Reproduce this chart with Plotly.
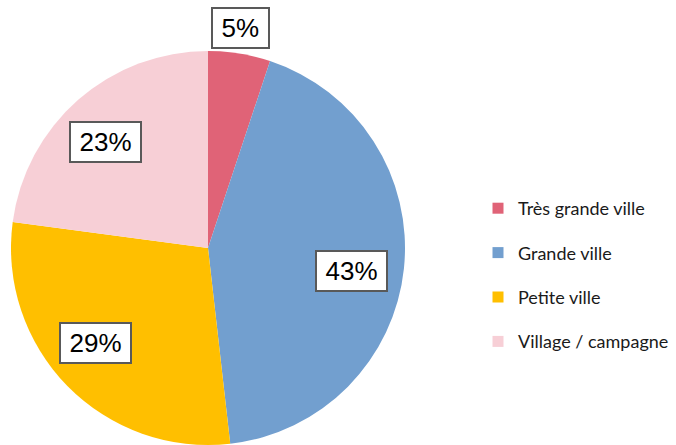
import math
import plotly.graph_objects as go

labels = ["Très grande ville", "Grande ville", "Petite ville", "Village / campagne"]
values = [5.1, 43.1, 28.9, 22.9]
colors = ["#E06377", "#729FCF", "#FFBF00", "#F7CFD6"]

# label placement: radius fraction and angular nudge (degrees) per slice
label_radius = [1.13, 0.738, 0.747, 0.75]
label_shift = [-0.7, 3.2, 4.3, -2.7]

W, H = 676, 445
cx, cy, R = 208, 248, 197
FS = 26

fig = go.Figure()
fig.add_trace(go.Pie(
    labels=labels, values=values, sort=False, direction="clockwise", rotation=0,
    marker=dict(colors=colors, line=dict(width=0)),
    textinfo="none", hoverinfo="label+percent", showlegend=False,
    domain=dict(x=[(cx - R) / W, (cx + R) / W], y=[(H - cy - R) / H, (H - cy + R) / H]),
))

total = sum(values)
cum = 0
for v, rf, sh in zip(values, label_radius, label_shift):
    mid = (cum + v / 2) / total * 2 * math.pi + math.radians(sh)
    cum += v
    px = cx + rf * R * math.sin(mid)
    py = cy - rf * R * math.cos(mid)
    txt = f"{round(v / total * 100)}%"
    ndig = len(txt) - 1
    fig.add_annotation(
        x=px / W, y=1 - py / H, xref="paper", yref="paper",
        xanchor="center", yanchor="middle",
        text=txt, showarrow=False, width=FS * (0.556 * ndig + 0.889) + 9,
        font=dict(family="Liberation Sans, Arial", size=FS, color="#000"),
        bgcolor="white", bordercolor="#595959", borderwidth=2, borderpad=4,
    )

for lab, col in zip(labels, colors):
    fig.add_trace(go.Scatter(
        x=[None], y=[None], mode="markers", name=lab, legendgroup=lab,
        marker=dict(symbol="square", size=11, color=col), hoverinfo="skip",
    ))

fig.update_layout(
    width=W, height=H, margin=dict(l=0, r=0, t=0, b=0, autoexpand=False),
    paper_bgcolor="white", plot_bgcolor="white",
    xaxis=dict(visible=False), yaxis=dict(visible=False),
    legend=dict(x=(518 - 40) / W, y=1 - 275 / H, xanchor="left", yanchor="middle",
                font=dict(family="Lato", size=18, color="#1a1a1a"),
                tracegroupgap=18, itemwidth=30, bgcolor="rgba(0,0,0,0)"),
)

fig.write_html("out.html", config={"displayModeBar": False},
               post_script="document.body.style.margin='0';")
